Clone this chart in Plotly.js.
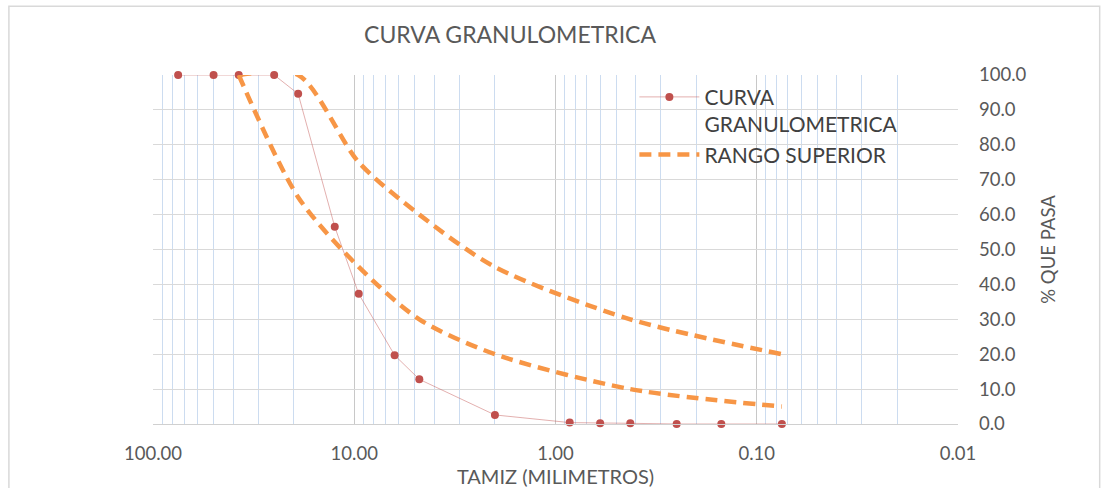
<!DOCTYPE html>
<html>
<head>
<meta charset="utf-8">
<script src="https://cdn.plot.ly/plotly-3.0.1.min.js"></script>
<style>html,body{margin:0;padding:0;background:#fff;}#chart{width:1104px;height:488px;}</style>
</head>
<body>
<div id="chart"></div>
<script>
// Sieve openings (mm) and % passing of the sample
const sieveMm = [75, 50, 37.5, 25, 19, 12.5, 9.5, 6.3, 4.75, 2.0, 0.85, 0.6, 0.425, 0.25, 0.15, 0.075];
const pctPassing = [100, 100, 100, 100, 94.6, 56.5, 37.3, 19.7, 12.8, 2.6, 0.4, 0.2, 0.2, 0, 0, 0];

// Specification band
const bandMm = [37.5, 19, 9.5, 4.75, 2.0, 0.425, 0.075];
const upperLimit = [100, 100, 75, 60, 45, 30, 20];
const lowerLimit = [100, 65, 45, 30, 20, 10, 5];

// Axis ticks
const xTickVals = [100, 10, 1, 0.1, 0.01];
const xTickText = ["100.00", "10.00", "1.00", "0.10", "0.01"];
const yTickVals = [0, 10, 20, 30, 40, 50, 60, 70, 80, 90, 100];

const minorVals = [];
[10, 1, 0.1, 0.01].forEach(d => { for (let k = 2; k <= 9; k++) minorVals.push(+(d * k).toPrecision(3)); });

const FONT = "Lato, 'Open Sans', sans-serif";
const ORANGE = "#F79646";

const traces = [
  {
    x: sieveMm, y: pctPassing, type: "scatter", mode: "lines+markers",
    name: "CURVA<br>GRANULOMETRICA",
    line: {color: "rgba(192,80,77,0.45)", width: 1},
    marker: {color: "#C0504D", size: 8},
    cliponaxis: false
  },
  {
    x: bandMm, y: upperLimit, type: "scatter", mode: "lines",
    name: "RANGO SUPERIOR",
    line: {color: ORANGE, width: 4.5, dash: "12px,7px", shape: "spline", smoothing: 0.8},
    cliponaxis: false
  },
  {
    x: bandMm, y: lowerLimit, type: "scatter", mode: "lines",
    name: "RANGO INFERIOR", showlegend: false,
    line: {color: ORANGE, width: 4.5, dash: "12px,7px", shape: "spline", smoothing: 0.8},
    cliponaxis: false
  }
];

const layout = {
  width: 1104, height: 488,
  margin: {l: 153, r: 146, t: 75, b: 64},
  paper_bgcolor: "#fff", plot_bgcolor: "#fff",
  font: {family: FONT, color: "#595959", size: 18},
  title: {text: "CURVA GRANULOMETRICA", x: 0.462, xanchor: "center", y: 0.928, yanchor: "middle",
          font: {family: FONT, size: 23, color: "#595959"}},
  showlegend: true,
  legend: {x: 0.598, y: 0.995, xanchor: "left", yanchor: "top", bgcolor: "rgba(0,0,0,0)",
           itemwidth: 60, valign: "top", font: {family: FONT, size: 21, color: "#404040"},
           tracegroupgap: 0},
  xaxis: {
    type: "log", range: [2, -2], autorange: false,
    tickmode: "array", tickvals: xTickVals, ticktext: xTickText,
    showgrid: true, gridcolor: "#C8C8C8", gridwidth: 1,
    minor: {tickmode: "array", tickvals: minorVals, showgrid: true, gridcolor: "#CCDCF0", gridwidth: 1, ticklen: 0},
    showline: true, linecolor: "#D0D0D0", linewidth: 1,
    ticks: "", ticklabelstandoff: 13,
    tickfont: {family: FONT, size: 18.5, color: "#595959"},
    title: {text: "TAMIZ (MILIMETROS)", standoff: 0, font: {family: FONT, size: 20, color: "#595959"}},
    zeroline: false
  },
  yaxis: {
    side: "right", range: [0, 100], autorange: false,
    tickmode: "array", tickvals: yTickVals, tickformat: ".1f",
    showgrid: true, gridcolor: "#D9D9D9", gridwidth: 1,
    zeroline: false, showline: false, ticks: "",
    ticklabelstandoff: 20,
    tickfont: {family: FONT, size: 18.5, color: "#595959"},
    title: {text: "% QUE PASA", standoff: 16, font: {family: FONT, size: 18.5, color: "#595959"}}
  },
  shapes: [
    {type: "rect", xref: "paper", yref: "paper", x0: -0.179, x1: 1.176, y0: -0.2, y1: 1.197,
     line: {color: "#D9D9D9", width: 1.5}, fillcolor: "rgba(0,0,0,0)", layer: "below"}
  ]
};

Plotly.newPlot("chart", traces, layout, {displayModeBar: false, staticPlot: true});
</script>
</body>
</html>
